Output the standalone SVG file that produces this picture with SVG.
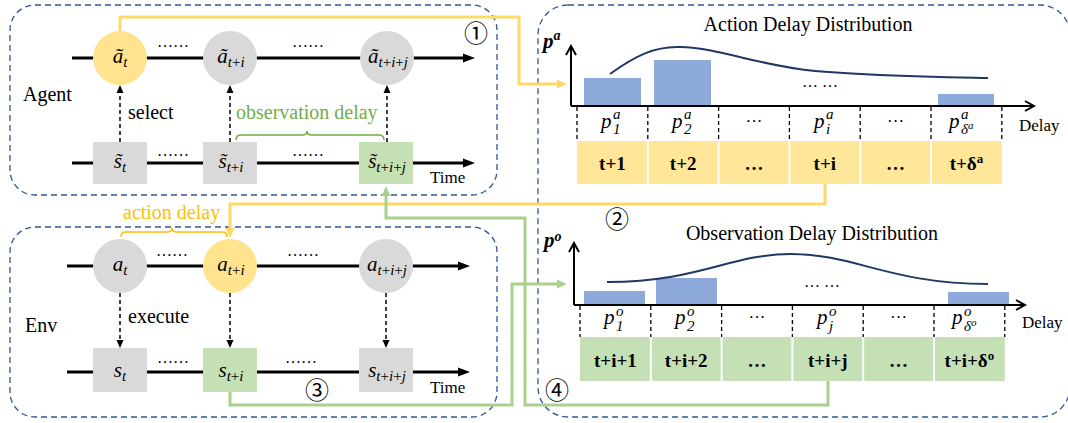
<svg xmlns="http://www.w3.org/2000/svg" width="1068" height="423" viewBox="0 0 1068 423">
<style>
.panel{fill:none;stroke:#2f5597;stroke-width:1.3;stroke-dasharray:6 4}
.tl{stroke:#000;stroke-width:3;fill:none}
.dsh{stroke:#000;stroke-width:1.5;stroke-dasharray:4 3;fill:none}
.gc{fill:#d9d9d9}
.yc{fill:#ffe38e}
.gr{fill:#c5e0b4}
.m{font-family:"Liberation Serif",serif;font-style:italic;font-size:21px;fill:#000}
.sb{font-size:15px}
.t{font-family:"Liberation Serif",serif;font-size:20px;fill:#000}
.ts{font-family:"Liberation Serif",serif;font-size:17px;fill:#000}
.dots{font-family:"Liberation Serif",serif;font-size:16px;fill:#000}
.cell{font-family:"Liberation Serif",serif;font-size:19px;font-weight:bold;text-anchor:middle;fill:#000}
.pl{font-family:"Liberation Serif",serif;font-style:italic;font-size:21px;fill:#000}
.ps{font-family:"Liberation Serif",serif;font-style:italic;font-size:15px;fill:#000}
.cn{font-family:"Noto Sans CJK SC","DejaVu Sans",sans-serif;font-size:24px;text-anchor:middle;fill:#000}
.bar{fill:#8eaadb}
.tick{stroke:#000;stroke-width:1.3;stroke-dasharray:4 3}
.ax{stroke:#000;stroke-width:2;fill:none}
.sep{stroke:#fff;stroke-width:2}
.curve{fill:none;stroke:#1f3864;stroke-width:2}
.yl{fill:none;stroke:#ffd966;stroke-width:3}
.gl{fill:none;stroke:#a9d18e;stroke-width:3}
</style>
<defs>
<marker id="aBlack" markerUnits="userSpaceOnUse" markerWidth="12" markerHeight="10" refX="0" refY="5" orient="auto"><path d="M0,0.5 L12,5 L0,9.5 z" fill="#000"/></marker>
<marker id="aDash" markerUnits="userSpaceOnUse" markerWidth="8" markerHeight="8" refX="0" refY="4" orient="auto"><path d="M0,0.5 L8,4 L0,7.5 z" fill="#000"/></marker>
<marker id="aYel" markerUnits="userSpaceOnUse" markerWidth="10" markerHeight="10" refX="0" refY="5" orient="auto"><path d="M0,0.5 L10,5 L0,9.5 z" fill="#ffd966"/></marker>
<marker id="aGrn" markerUnits="userSpaceOnUse" markerWidth="10" markerHeight="10" refX="0" refY="5" orient="auto"><path d="M0,0.5 L10,5 L0,9.5 z" fill="#a9d18e"/></marker>
<marker id="aAx" markerUnits="userSpaceOnUse" markerWidth="12" markerHeight="12" refX="10" refY="6" orient="auto"><path d="M1,1 L10,6 L1,11" fill="none" stroke="#000" stroke-width="2"/></marker>
</defs>

<!-- panels -->
<g id="agent-panel"><rect class="panel" x="10" y="5" width="487" height="190" rx="25"/></g>
<g id="env-panel"><rect class="panel" x="10" y="227" width="487" height="190" rx="25"/></g>
<g id="dist-panel"><rect class="panel" x="538" y="5" width="532" height="412" rx="30"/></g>

<!-- connectors -->
<g id="connectors">
<path class="yl" d="M120,31 V17 H519 V84 H557" marker-end="url(#aYel)"/>
<path class="yl" d="M825,184 V204 H230 V228" marker-end="url(#aYel)"/>
<path class="gl" d="M828,381 V405 H525 V218 H386 V196" marker-end="url(#aGrn)"/>
<path class="gl" d="M230,392 V405 H512 V284 H557" marker-end="url(#aGrn)"/>
</g>

<!-- Agent timelines -->
<g id="agent-lines">
<line class="tl" x1="72" y1="58" x2="463" y2="58" marker-end="url(#aBlack)"/>
<line class="tl" x1="72" y1="163" x2="463" y2="163" marker-end="url(#aBlack)"/>
<line class="dsh" x1="120" y1="142" x2="120" y2="93" marker-end="url(#aDash)"/>
<line class="dsh" x1="230" y1="142" x2="230" y2="93" marker-end="url(#aDash)"/>
<line class="dsh" x1="387" y1="142" x2="387" y2="93" marker-end="url(#aDash)"/>
</g>
<g id="agent-a-t"><circle class="yc" cx="120" cy="58" r="27"/><text class="m" x="120" y="63" text-anchor="middle">ã<tspan class="sb" dy="4">t</tspan></text></g>
<g id="agent-a-ti"><circle class="gc" cx="230" cy="58" r="27"/><text class="m" x="231" y="63" text-anchor="middle">ã<tspan class="sb" dy="4">t<tspan font-style="normal">+</tspan>i</tspan></text></g>
<g id="agent-a-tij"><circle class="gc" cx="387" cy="58" r="27"/><text class="m" x="388" y="63" text-anchor="middle">ã<tspan class="sb" dy="4">t<tspan font-style="normal">+</tspan>i<tspan font-style="normal">+</tspan>j</tspan></text></g>
<g id="agent-s-t"><rect class="gc" x="93" y="142" width="54" height="42"/><text class="m" x="120" y="168" text-anchor="middle">s̃<tspan class="sb" dy="4">t</tspan></text></g>
<g id="agent-s-ti"><rect class="gc" x="203" y="142" width="54" height="42"/><text class="m" x="231" y="168" text-anchor="middle">s̃<tspan class="sb" dy="4">t<tspan font-style="normal">+</tspan>i</tspan></text></g>
<g id="agent-s-tij"><rect class="gr" x="359" y="142" width="54" height="42"/><text class="m" x="387" y="168" text-anchor="middle">s̃<tspan class="sb" dy="4">t<tspan font-style="normal">+</tspan>i<tspan font-style="normal">+</tspan>j</tspan></text></g>
<g id="agent-labels">
<text class="t" x="23" y="101">Agent</text>
<text class="t" x="128" y="119">select</text>
<text class="t" x="236" y="119" style="fill:#70ad47">observation delay</text>
<path d="M236,140 Q236,135 241,135 L302,135 Q307,135 307,131 Q307,135 312,135 L379,135 Q384,135 384,140" fill="none" stroke="#70ad47" stroke-width="1.5"/>
<text class="ts" x="430" y="183">Time</text>
<text class="dots" x="173" y="47" text-anchor="middle">……</text>
<text class="dots" x="308" y="47" text-anchor="middle">……</text>
<text class="dots" x="173" y="156" text-anchor="middle">……</text>
<text class="dots" x="308" y="156" text-anchor="middle">……</text>
<text class="cn" x="476" y="42">①</text>
</g>

<!-- Env timelines -->
<g id="env-lines">
<line class="tl" x1="67" y1="266" x2="458" y2="266" marker-end="url(#aBlack)"/>
<line class="tl" x1="67" y1="372" x2="458" y2="372" marker-end="url(#aBlack)"/>
<line class="dsh" x1="120" y1="293" x2="120" y2="340" marker-end="url(#aDash)"/>
<line class="dsh" x1="230" y1="293" x2="230" y2="340" marker-end="url(#aDash)"/>
<line class="dsh" x1="386" y1="293" x2="386" y2="340" marker-end="url(#aDash)"/>
</g>
<g id="env-a-t"><circle class="gc" cx="120" cy="266" r="27"/><text class="m" x="120" y="271" text-anchor="middle">a<tspan class="sb" dy="4">t</tspan></text></g>
<g id="env-a-ti"><circle class="yc" cx="230" cy="266" r="27"/><text class="m" x="231" y="271" text-anchor="middle">a<tspan class="sb" dy="4">t<tspan font-style="normal">+</tspan>i</tspan></text></g>
<g id="env-a-tij"><circle class="gc" cx="386" cy="266" r="27"/><text class="m" x="387" y="271" text-anchor="middle">a<tspan class="sb" dy="4">t<tspan font-style="normal">+</tspan>i<tspan font-style="normal">+</tspan>j</tspan></text></g>
<g id="env-s-t"><rect class="gc" x="93" y="348" width="54" height="44"/><text class="m" x="120" y="377" text-anchor="middle">s<tspan class="sb" dy="4">t</tspan></text></g>
<g id="env-s-ti"><rect class="gr" x="203" y="348" width="54" height="44"/><text class="m" x="231" y="377" text-anchor="middle">s<tspan class="sb" dy="4">t<tspan font-style="normal">+</tspan>i</tspan></text></g>
<g id="env-s-tij"><rect class="gc" x="359" y="348" width="54" height="44"/><text class="m" x="387" y="377" text-anchor="middle">s<tspan class="sb" dy="4">t<tspan font-style="normal">+</tspan>i<tspan font-style="normal">+</tspan>j</tspan></text></g>
<g id="env-labels">
<text class="t" x="25" y="332">Env</text>
<text class="t" x="128" y="323">execute</text>
<text class="t" x="123" y="219" style="fill:#ffc000">action delay</text>
<path d="M121,237 Q121,232 126,232 L167,232 Q172,232 172,228 Q172,232 177,232 L222,232 Q227,232 227,237" fill="none" stroke="#ffc000" stroke-width="1.5"/>
<text class="ts" x="430" y="393">Time</text>
<text class="dots" x="172" y="256" text-anchor="middle">……</text>
<text class="dots" x="303" y="256" text-anchor="middle">……</text>
<text class="dots" x="173" y="363" text-anchor="middle">……</text>
<text class="dots" x="301" y="363" text-anchor="middle">……</text>
<text class="cn" x="317" y="399">③</text>
</g>

<!-- Action delay distribution -->
<g id="action-dist">
<text class="t" x="808" y="31" text-anchor="middle">Action Delay Distribution</text>
<text x="543" y="48" font-family="Liberation Serif,serif" font-style="italic" font-weight="bold" font-size="21">p<tspan font-size="14" dy="-8">a</tspan></text>
<rect class="bar" x="584" y="78" width="57" height="28"/>
<rect class="bar" x="654" y="60" width="57" height="46"/>
<rect class="bar" x="938" y="94" width="56" height="12"/>
<path class="curve" d="M610,74 C635,56 655,46 680,47 C720,48 760,66 815,71 C870,76 940,77 988,78"/>
<text class="dots" x="820" y="87" text-anchor="middle">… …</text>
<path class="ax" d="M571,106 V46" marker-end="url(#aAx)"/>
<path class="ax" d="M571,106 H1034" marker-end="url(#aAx)"/>
<g>
<line class="tick" x1="577" y1="107" x2="577" y2="141"/>
<line class="tick" x1="647.8" y1="107" x2="647.8" y2="141"/>
<line class="tick" x1="718.6" y1="107" x2="718.6" y2="141"/>
<line class="tick" x1="789.4" y1="107" x2="789.4" y2="141"/>
<line class="tick" x1="860.2" y1="107" x2="860.2" y2="141"/>
<line class="tick" x1="931" y1="107" x2="931" y2="141"/>
<line class="tick" x1="1001.8" y1="107" x2="1001.8" y2="141"/>
</g>
<text class="ts" x="1019" y="131">Delay</text>
<text class="pl" x="601" y="128">p</text><text class="ps" x="613" y="119">a</text><text class="ps" x="613" y="134" font-style="normal">1</text>
<text class="pl" x="672" y="128">p</text><text class="ps" x="684" y="119">a</text><text class="ps" x="684" y="134" font-style="normal">2</text>
<text class="ts" x="754" y="127" text-anchor="middle">···</text>
<text class="pl" x="814" y="128">p</text><text class="ps" x="826" y="119">a</text><text class="ps" x="826" y="134">i</text>
<text class="ts" x="895.6" y="127" text-anchor="middle">···</text>
<text class="pl" x="949" y="128">p</text><text class="ps" x="961" y="119">a</text><text class="ps" x="961" y="134">δ<tspan font-size="11" dy="-5">a</tspan></text>
<rect x="577" y="141" width="424.8" height="43" fill="#ffe699"/>
<line class="sep" x1="647.8" y1="141" x2="647.8" y2="184"/>
<line class="sep" x1="718.6" y1="141" x2="718.6" y2="184"/>
<line class="sep" x1="789.4" y1="141" x2="789.4" y2="184"/>
<line class="sep" x1="860.2" y1="141" x2="860.2" y2="184"/>
<line class="sep" x1="931" y1="141" x2="931" y2="184"/>
<text class="cell" x="612.4" y="170">t+1</text>
<text class="cell" x="683.2" y="170">t+2</text>
<text class="cell" x="754" y="170">…</text>
<text class="cell" x="824.8" y="170">t+i</text>
<text class="cell" x="895.6" y="170">…</text>
<text class="cell" x="966.4" y="170">t+δ<tspan font-size="13" dy="-7">a</tspan></text>
<text class="cn" x="617" y="228">②</text>
</g>

<!-- Observation delay distribution -->
<g id="obs-dist">
<text class="t" x="812" y="240" text-anchor="middle">Observation Delay Distribution</text>
<text x="544" y="247" font-family="Liberation Serif,serif" font-style="italic" font-weight="bold" font-size="21">p<tspan font-size="14" dy="-6">o</tspan></text>
<rect class="bar" x="584" y="291" width="61" height="14"/>
<rect class="bar" x="656" y="278" width="61" height="27"/>
<rect class="bar" x="948" y="292" width="61" height="13"/>
<path class="curve" d="M607,282 C700,282 730,254 791,254 C855,254 890,284 988,284"/>
<text class="dots" x="822" y="287" text-anchor="middle">… …</text>
<path class="ax" d="M574,305 V243" marker-end="url(#aAx)"/>
<path class="ax" d="M574,305 H1025" marker-end="url(#aAx)"/>
<g>
<line class="tick" x1="580" y1="306" x2="580" y2="337"/>
<line class="tick" x1="650.8" y1="306" x2="650.8" y2="337"/>
<line class="tick" x1="721.6" y1="306" x2="721.6" y2="337"/>
<line class="tick" x1="792.4" y1="306" x2="792.4" y2="337"/>
<line class="tick" x1="863.2" y1="306" x2="863.2" y2="337"/>
<line class="tick" x1="934" y1="306" x2="934" y2="337"/>
<line class="tick" x1="1004.8" y1="306" x2="1004.8" y2="337"/>
</g>
<text class="ts" x="1022" y="328">Delay</text>
<text class="pl" x="604" y="324">p</text><text class="ps" x="616" y="316">o</text><text class="ps" x="616" y="331" font-style="normal">1</text>
<text class="pl" x="675" y="324">p</text><text class="ps" x="687" y="316">o</text><text class="ps" x="687" y="331" font-style="normal">2</text>
<text class="ts" x="757" y="323" text-anchor="middle">···</text>
<text class="pl" x="817" y="324">p</text><text class="ps" x="829" y="316">o</text><text class="ps" x="829" y="331">j</text>
<text class="ts" x="898.6" y="323" text-anchor="middle">···</text>
<text class="pl" x="952" y="324">p</text><text class="ps" x="964" y="316">o</text><text class="ps" x="964" y="331">δ<tspan font-size="11" dy="-5">o</tspan></text>
<rect x="580" y="337" width="424.8" height="44" fill="#c5e0b4"/>
<line class="sep" x1="650.8" y1="337" x2="650.8" y2="381"/>
<line class="sep" x1="721.6" y1="337" x2="721.6" y2="381"/>
<line class="sep" x1="792.4" y1="337" x2="792.4" y2="381"/>
<line class="sep" x1="863.2" y1="337" x2="863.2" y2="381"/>
<line class="sep" x1="934" y1="337" x2="934" y2="381"/>
<text class="cell" x="615.4" y="367">t+i+1</text>
<text class="cell" x="686.2" y="367">t+i+2</text>
<text class="cell" x="757" y="367">…</text>
<text class="cell" x="827.8" y="367">t+i+j</text>
<text class="cell" x="898.6" y="367">…</text>
<text class="cell" x="969.4" y="367">t+i+δ<tspan font-size="13" dy="-7">o</tspan></text>
<text class="cn" x="557" y="399">④</text>
</g>
</svg>
